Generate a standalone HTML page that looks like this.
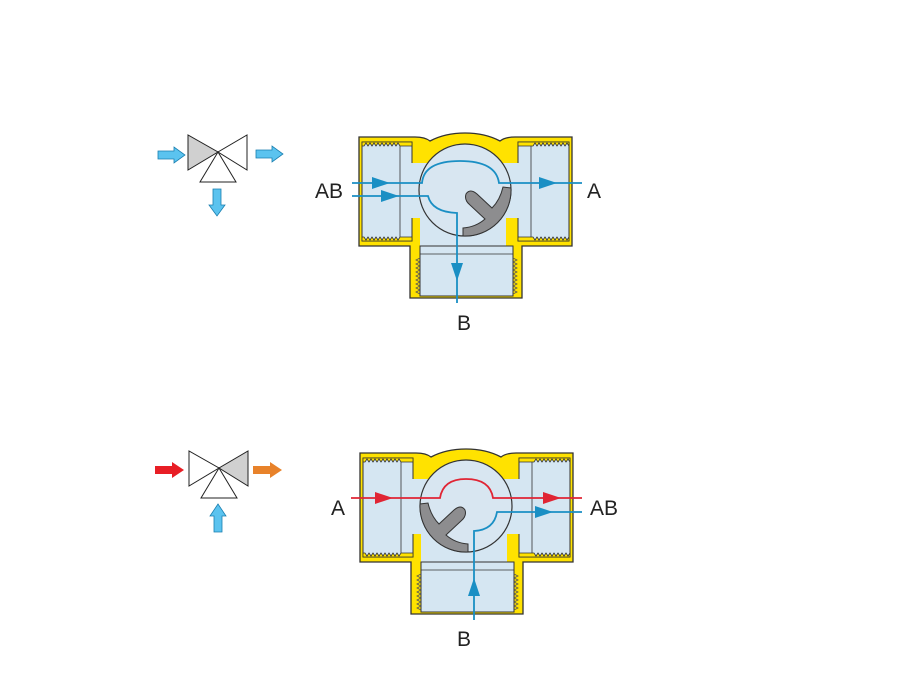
<!DOCTYPE html>
<html><head><meta charset="utf-8"><style>
html,body{margin:0;padding:0;background:#fff;}
svg{display:block;}
text{font-family:"Liberation Sans",sans-serif;font-size:21px;fill:#222;}
</style></head><body>
<svg width="911" height="693" viewBox="0 0 911 693" xmlns="http://www.w3.org/2000/svg">
<defs>
<g id="body">
<path d="M359,137 L415,137 Q425,137 430,141 Q445,133 465,133 Q485,133 500,141 Q505,137 515,137 L572,137 L572,246 L522,246 L522,298 L410,298 L410,246 L359,246 Z" fill="#ffe200" stroke="#333" stroke-width="1.3"/>
<rect x="362" y="142" width="50" height="99" fill="#d5e6f2" stroke="#333" stroke-width="1"/>
<line x1="400" y1="142" x2="400" y2="241" stroke="#333" stroke-width="0.8"/>
<path d="M362,142 L412,142 L412,146 L400,146 l-2,-3 -2,3 -2,-3 -2,3 -2,-3 -2,3 -2,-3 -2,3 -2,-3 -2,3 -2,-3 -2,3 -2,-3 -2,3 -2,-3 -2,3 -2,-3 -2,3 L362,146 Z" fill="#ffe200" stroke="#333" stroke-width="0.8"/>
<path d="M362,241 L412,241 L412,237 L400,237 l-2,3 -2,-3 -2,3 -2,-3 -2,3 -2,-3 -2,3 -2,-3 -2,3 -2,-3 -2,3 -2,-3 -2,3 -2,-3 -2,3 -2,-3 -2,3 -2,-3 L362,237 Z" fill="#ffe200" stroke="#333" stroke-width="0.8"/>
<rect x="518" y="142" width="51" height="99" fill="#d5e6f2" stroke="#333" stroke-width="1"/>
<line x1="531" y1="142" x2="531" y2="241" stroke="#333" stroke-width="0.8"/>
<path d="M518,142 L569,142 L569,146 l-2,-3 -2,3 -2,-3 -2,3 -2,-3 -2,3 -2,-3 -2,3 -2,-3 -2,3 -2,-3 -2,3 -2,-3 -2,3 -2,-3 -2,3 -2,-3 -2,3 L518,146 Z" fill="#ffe200" stroke="#333" stroke-width="0.8"/>
<path d="M518,241 L569,241 L569,237 l-2,3 -2,-3 -2,3 -2,-3 -2,3 -2,-3 -2,3 -2,-3 -2,3 -2,-3 -2,3 -2,-3 -2,3 -2,-3 -2,3 -2,-3 -2,3 -2,-3 L518,237 Z" fill="#ffe200" stroke="#333" stroke-width="0.8"/>
<rect x="410" y="163" width="110" height="55" fill="#d5e6f2"/>
<rect x="420" y="215" width="86" height="33" fill="#d5e6f2"/>
<rect x="420" y="246" width="93" height="50" fill="#d5e6f2" stroke="#333" stroke-width="1"/>
<line x1="420" y1="254" x2="513" y2="254" stroke="#333" stroke-width="0.8"/>
<path d="M420,258 l-4,2 4,2 -4,2 4,2 -4,2 4,2 -4,2 4,2 -4,2 4,2 -4,2 4,2 -4,2 4,2 -4,2 4,2 -4,2 4,2" fill="none" stroke="#555" stroke-width="0.8"/>
<path d="M513,258 l4,2 -4,2 4,2 -4,2 4,2 -4,2 4,2 -4,2 4,2 -4,2 4,2 -4,2 4,2 -4,2 4,2 -4,2 4,2 -4,2" fill="none" stroke="#555" stroke-width="0.8"/>
<circle cx="465" cy="190" r="46" fill="#d8e6f1" stroke="#333" stroke-width="1.2"/>
</g>
<path id="handle" d="M463,236 A46,46 0 0 0 511,188 L503,187 Q500,200 492,208 L477,194 Q470,188 466,194 Q464,200 470,205 L485,219 Q476,227 463,228 Z" fill="#8d8d8f" stroke="#333" stroke-width="1"/>
</defs>

<use href="#body"/>
<use href="#handle"/>
<g fill="none" stroke="#1a8fc4" stroke-width="1.8">
<path d="M352,183 L422,183 Q424,161 460,161 Q496,161 499,183 L582,183"/>
<path d="M352,196 L428,196 Q432,212 457,213 L457,303"/>
</g>
<g fill="#1a8fc4">
<polygon points="372,177 390,183 372,189"/>
<polygon points="381,190 399,196 381,202"/>
<polygon points="539,177 557,183 539,189"/>
<polygon points="451,263 457,281 463,263"/>
</g>
<text x="315" y="198">AB</text>
<text x="587" y="198">A</text>
<text x="457" y="330">B</text>

<g transform="translate(1,316)">
<use href="#body"/>
<use href="#handle" transform="translate(930,0) scale(-1,1)"/>
</g>
<g fill="none" stroke-width="1.8">
<path d="M351,498 L440,498 Q443,479 466,479 Q490,479 493,498 L582,498" stroke="#e02534"/>
<path d="M582,512 L497,512 Q494,530 474,531 L474,620" stroke="#1a8fc4"/>
</g>
<polygon points="375,492 393,498 375,504" fill="#e02534"/>
<polygon points="543,492 561,498 543,504" fill="#e02534"/>
<polygon points="535,506 553,512 535,518" fill="#1a8fc4"/>
<polygon points="468,596 474,578 480,596" fill="#1a8fc4"/>
<text x="331" y="515">A</text>
<text x="590" y="515">AB</text>
<text x="457" y="646">B</text>

<g stroke="#222" stroke-width="1">
<polygon points="188,135 188,170 218,152" fill="#d0d0d0"/>
<polygon points="247,135 247,170 218,152" fill="#fff"/>
<polygon points="218,152 200,182 236,182" fill="#fff"/>
</g>
<g fill="#5bc3ef" stroke="#1a7fb0" stroke-width="0.8">
<polygon points="158,151 174,151 174,147 185,155 174,163 174,159 158,159"/>
<polygon points="256,150 272,150 272,146 283,154 272,162 272,158 256,158"/>
<polygon points="213,189 221,189 221,205 225,205 217,216 209,205 213,205"/>
</g>
<g stroke="#222" stroke-width="1">
<polygon points="189,451 189,486 219,468" fill="#fff"/>
<polygon points="248,451 248,486 219,468" fill="#d0d0d0"/>
<polygon points="219,468 201,498 237,498" fill="#fff"/>
</g>
<polygon points="155,466 172,466 172,462 184,470 172,478 172,474 155,474" fill="#e81e25"/>
<polygon points="253,466 270,466 270,462 282,470 270,478 270,474 253,474" fill="#e8822a"/>
<polygon points="214,532 222,532 222,516 226,516 218,504 210,516 214,516" fill="#5bc3ef" stroke="#1a7fb0" stroke-width="0.8"/>
</svg>
</body></html>
